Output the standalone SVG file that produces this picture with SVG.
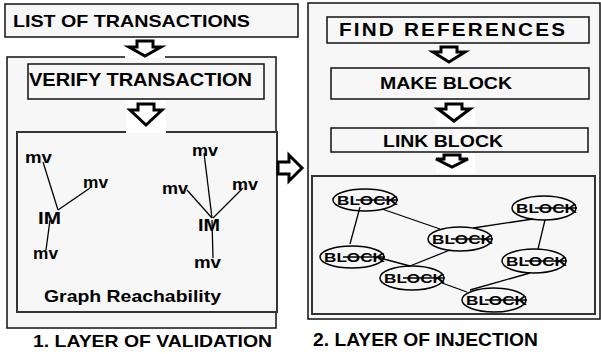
<svg xmlns="http://www.w3.org/2000/svg" width="601" height="354" viewBox="0 0 601 354">
<style>
.box{fill:#f7f7f7;stroke:#111;stroke-width:1.5}
.gbox{fill:#f7f7f7;stroke:#333;stroke-width:2}
.t{font-family:"Liberation Sans",Arial,sans-serif;font-weight:bold;fill:#000}
.arr{fill:#fff;stroke:#000;stroke-width:3;stroke-linejoin:miter}
.bg{fill:#fff}
.ln{stroke:#000;stroke-width:1.3;fill:none}
.blk ellipse{fill:none;stroke:#000;stroke-width:1.5}
.blk text{font-family:"Liberation Sans",Arial,sans-serif;font-weight:bold;font-size:13.5px}
.blk line{stroke:#000;stroke-width:1.3}
</style>
<rect width="601" height="354" fill="#fff"/>

<g id="list-transactions">
<rect class="box" x="5" y="4" width="293" height="33"/>
<text class="t" x="13" y="27" font-size="17" textLength="237" lengthAdjust="spacingAndGlyphs">LIST OF TRANSACTIONS</text>
</g>

<g id="validation-layer">
<rect class="box" x="7" y="57" width="269" height="271" stroke-width="2"/>
<text class="t" x="33" y="347" font-size="16.5" textLength="239" lengthAdjust="spacingAndGlyphs">1. LAYER OF VALIDATION</text>
</g>

<g id="verify-transaction">
<rect class="box" x="28" y="64" width="236" height="35"/>
<text class="t" x="29" y="86" font-size="18" textLength="223" lengthAdjust="spacingAndGlyphs">VERIFY TRANSACTION</text>
</g>

<g id="graph-reachability">
<rect class="gbox" x="17" y="132" width="260" height="180"/>
<text class="t" x="44" y="302" font-size="16.5" textLength="177" lengthAdjust="spacingAndGlyphs">Graph Reachability</text>
<g class="ln">
<line x1="43" y1="162" x2="58" y2="210"/>
<line x1="90" y1="188" x2="58" y2="210"/>
<line x1="50" y1="220" x2="46" y2="250"/>
<line x1="204" y1="153" x2="212" y2="218"/>
<line x1="187" y1="190" x2="212" y2="218"/>
<line x1="243" y1="188" x2="213" y2="218"/>
<line x1="212" y1="220" x2="213" y2="258"/>
</g>
<g class="t" font-size="16">
<text x="25" y="163" textLength="27" lengthAdjust="spacingAndGlyphs">mv</text>
<text x="83" y="188" textLength="25" lengthAdjust="spacingAndGlyphs">mv</text>
<text x="38" y="224" textLength="23" lengthAdjust="spacingAndGlyphs">IM</text>
<text x="33" y="259" textLength="25" lengthAdjust="spacingAndGlyphs">mv</text>
<text x="192" y="156" textLength="26" lengthAdjust="spacingAndGlyphs">mv</text>
<text x="162" y="194" textLength="26" lengthAdjust="spacingAndGlyphs">mv</text>
<text x="232" y="190" textLength="26" lengthAdjust="spacingAndGlyphs">mv</text>
<text x="198" y="231" textLength="22" lengthAdjust="spacingAndGlyphs">IM</text>
<text x="194" y="268" textLength="27" lengthAdjust="spacingAndGlyphs">mv</text>
</g>
</g>

<g id="injection-layer">
<rect class="box" x="308" y="3" width="292" height="316" stroke-width="2"/>
<text class="t" x="313" y="346" font-size="17.5" textLength="225" lengthAdjust="spacingAndGlyphs">2. LAYER OF INJECTION</text>
</g>

<g id="find-references">
<rect class="box" x="327" y="17" width="262" height="26"/>
<text class="t" transform="translate(339,36) scale(1.15,1)" x="0" y="0" font-size="18" textLength="196.5" lengthAdjust="spacing">FIND REFERENCES</text>
</g>

<g id="make-block">
<rect class="box" x="331" y="68" width="258" height="31"/>
<text class="t" x="380" y="89" font-size="16" textLength="132" lengthAdjust="spacingAndGlyphs">MAKE BLOCK</text>
</g>

<g id="link-block">
<rect class="box" x="331" y="128" width="257" height="24"/>
<text class="t" x="383" y="147" font-size="16.5" textLength="120" lengthAdjust="spacingAndGlyphs">LINK BLOCK</text>
</g>

<g id="block-graph">
<rect class="gbox" x="312" y="176" width="283" height="138"/>
<g class="ln">
<line x1="360" y1="207" x2="350" y2="244"/>
<line x1="382" y1="209" x2="440" y2="229"/>
<line x1="473" y1="228" x2="533" y2="219"/>
<line x1="545" y1="220" x2="538" y2="249"/>
<line x1="450" y1="250" x2="410" y2="266"/>
<line x1="380" y1="258" x2="410" y2="266"/>
<line x1="442" y1="283" x2="467" y2="292"/>
<line x1="530" y1="273" x2="470" y2="290"/>
</g>
<g class="blk" id="block-1"><ellipse cx="365" cy="200" rx="32" ry="11"/><text x="337" y="205" textLength="61" lengthAdjust="spacingAndGlyphs">BLOCK</text><line x1="356" y1="200" x2="398" y2="200"/></g>
<g class="blk" id="block-2"><ellipse cx="544" cy="208" rx="32" ry="12"/><text x="516" y="213" textLength="61" lengthAdjust="spacingAndGlyphs">BLOCK</text><line x1="535" y1="208" x2="577" y2="208"/></g>
<g class="blk" id="block-3"><ellipse cx="460" cy="239" rx="32" ry="12"/><text x="432" y="244" textLength="61" lengthAdjust="spacingAndGlyphs">BLOCK</text><line x1="451" y1="239" x2="493" y2="239"/></g>
<g class="blk" id="block-4"><ellipse cx="352" cy="257" rx="32" ry="11"/><text x="324" y="262" textLength="61" lengthAdjust="spacingAndGlyphs">BLOCK</text><line x1="343" y1="257" x2="385" y2="257"/></g>
<g class="blk" id="block-5"><ellipse cx="534" cy="261" rx="32" ry="12"/><text x="506" y="266" textLength="61" lengthAdjust="spacingAndGlyphs">BLOCK</text><line x1="525" y1="261" x2="567" y2="261"/></g>
<g class="blk" id="block-6"><ellipse cx="412" cy="278" rx="32" ry="12"/><text x="384" y="283" textLength="61" lengthAdjust="spacingAndGlyphs">BLOCK</text><line x1="403" y1="278" x2="445" y2="278"/></g>
<g class="blk" id="block-7"><ellipse cx="494" cy="300" rx="32" ry="12"/><text x="466" y="305" textLength="61" lengthAdjust="spacingAndGlyphs">BLOCK</text><line x1="485" y1="300" x2="527" y2="300"/></g>
</g>

<g id="connectors">
<rect class="bg" x="125" y="38" width="40" height="20"/>
<path class="arr" d="M137 41 H153 V47 H161 L145 56 L129 47 H137 Z"/>
<rect class="bg" x="126" y="100" width="40" height="33"/>
<path class="arr" d="M138 104 H154 V110 H162 L146 125 L130 110 H138 Z"/>
<path class="arr" d="M441 47 H457 V52 H465 L449 62 L433 52 H441 Z"/>
<rect class="bg" x="437" y="100" width="38" height="25"/>
<path class="arr" d="M446 104 H462 V109 H470 L454 121 L438 109 H446 Z"/>
<rect class="bg" x="436" y="153" width="39" height="20"/>
<path class="arr" d="M444 155 H460 V159 H468 L452 167 L436 159 H444 Z"/>
<path class="arr" d="M278 162 H289 V155 L302 168 L289 181 V174 H278 Z"/>
</g>
</svg>
